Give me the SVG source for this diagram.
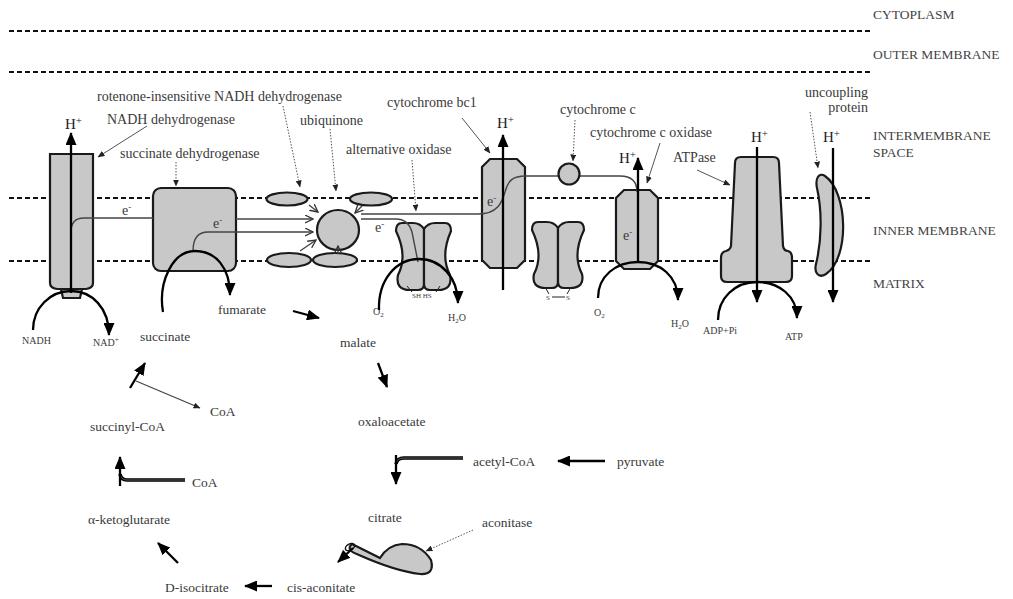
<svg xmlns="http://www.w3.org/2000/svg" width="1013" height="599" viewBox="0 0 1013 599">
<defs>
<style>
.mem{stroke:#111;stroke-width:2;stroke-dasharray:5 3;fill:none}
.prot{fill:#c8c8c8;stroke:#1a1a1a;stroke-width:2.2}
.thick{stroke:#000;stroke-width:2.3;fill:none;marker-end:url(#ah)}
.eline{stroke:#444;stroke-width:1.4;fill:none}
.eo{stroke:#444;stroke-width:1.4;fill:none;marker-end:url(#ao)}
.ptr{stroke:#555;stroke-width:1;fill:none;marker-end:url(#as)}
.dot{stroke-dasharray:1.5 1.5}
.dblo{stroke:#000;stroke-width:3.6;fill:none}
.dbli{stroke:#777;stroke-width:0.8;fill:none}
text{font-family:"Liberation Serif","DejaVu Serif",serif;fill:#3a3a3a}
.lbl{font-size:14px}
.tca{font-size:13.5px}
.reg{font-size:13.5px;fill:#444}
.sm{font-size:10px}
.tiny{font-size:7px}
.hp{font-size:15px;fill:#222}
</style>
<marker id="ah" viewBox="0 0 13 11" refX="12" refY="5.5" markerWidth="13" markerHeight="11" markerUnits="userSpaceOnUse" orient="auto"><path d="M0,0 L13,5.5 L0,11 Z" fill="#000"/></marker>
<marker id="as" viewBox="0 0 7 6" refX="6.5" refY="3" markerWidth="7" markerHeight="6" markerUnits="userSpaceOnUse" orient="auto"><path d="M0,0 L7,3 L0,6 Z" fill="#222"/></marker>
<marker id="ao" viewBox="0 0 9 9" refX="8" refY="4.5" markerWidth="9" markerHeight="9" markerUnits="userSpaceOnUse" orient="auto"><path d="M0,0.5 L8,4.5 L0,8.5" fill="none" stroke="#333" stroke-width="1.3"/></marker>
</defs>
<rect width="1013" height="599" fill="#fff"/>

<g id="membranes">
<line class="mem" x1="9" y1="31" x2="870" y2="31"/>
<line class="mem" x1="9" y1="72" x2="870" y2="72"/>
<line class="mem" x1="9" y1="198" x2="870" y2="198"/>
<line class="mem" x1="9" y1="261" x2="870" y2="261"/>
<text class="reg" x="873" y="19">CYTOPLASM</text>
<text class="reg" x="873" y="59">OUTER MEMBRANE</text>
<text class="reg" x="873" y="140">INTERMEMBRANE</text>
<text class="reg" x="873" y="157">SPACE</text>
<text class="reg" x="873" y="235">INNER MEMBRANE</text>
<text class="reg" x="873" y="288">MATRIX</text>
</g>

<g id="complex-I">
<path class="prot" d="M50,154 H93 V283 Q93,288 86,289 H57 Q50,288 50,283 Z"/>
<path class="prot" d="M61,289 H82 L80,298 H63 Z"/>
<text class="lbl" x="97" y="101">rotenone-insensitive NADH dehydrogenase</text>
<text class="lbl" x="107" y="124">NADH dehydrogenase</text>
<text class="sm" x="22" y="344">NADH</text>
<text class="sm" x="93" y="346">NAD<tspan dy="-4" font-size="7">+</tspan></text>
</g>

<g id="succinate-dehydrogenase">
<rect class="prot" x="153" y="188" width="83" height="83" rx="8"/>
<text class="lbl" x="120" y="158">succinate dehydrogenase</text>
</g>

<g id="rotenone-insensitive">
<ellipse class="prot" cx="287" cy="199" rx="20.5" ry="6.5"/>
<ellipse class="prot" cx="371" cy="199" rx="21" ry="6.5"/>
<ellipse class="prot" cx="289" cy="260" rx="22" ry="7"/>
<ellipse class="prot" cx="335" cy="260" rx="22" ry="7"/>
</g>

<g id="ubiquinone">
<ellipse class="prot" cx="338" cy="230" rx="21" ry="20"/>
<text class="lbl" x="300" y="125">ubiquinone</text>
</g>

<g id="alternative-oxidase">
<path class="prot" d="M424,229 Q420,223 413,223 L402,223 Q396,223 396,231 Q408,256 398,275 Q395,290 410,290 L418,290 Q424,290 424,284 Z"/>
<path class="prot" d="M424,229 Q428,223 435,223 L445,223 Q451,223 451,231 Q440,256 450,275 Q453,290 438,290 L430,290 Q424,290 424,284 Z"/>
<text class="lbl" x="346" y="154">alternative oxidase</text>
<text class="tiny" x="412" y="298">SH HS</text>
<path d="M407,286 L412,292 M440,286 L436,292" stroke="#222" stroke-width="1" fill="none"/>
<text class="sm" x="373" y="315">O<tspan dy="2" font-size="7">2</tspan></text>
<text class="sm" x="448" y="321">H<tspan dy="2" font-size="7">2</tspan><tspan dy="-2">O</tspan></text>
</g>

<g id="cytochrome-bc1">
<path class="prot" d="M490,159 H517 L525,167 V260 L517,268 H490 L482,260 V167 Z"/>
<text class="lbl" x="387" y="107">cytochrome bc1</text>
</g>

<g id="dimer">
<path class="prot" d="M558,228 Q554,222 547,222 L538,222 Q532,222 532,230 Q544,255 534,274 Q531,288 546,288 L552,288 Q558,288 558,282 Z"/>
<path class="prot" d="M558,228 Q562,222 569,222 L578,222 Q584,222 584,230 Q572,255 582,274 Q585,288 570,288 L564,288 Q558,288 558,282 Z"/>
<path d="M545,287 L549,294 M571,287 L567,294 M552,297 H565" stroke="#222" stroke-width="1" fill="none"/>
<text class="tiny" x="546" y="300">S</text>
<text class="tiny" x="566" y="300">S</text>
</g>

<g id="cytochrome-c-oxidase">
<path class="prot" d="M624,190 H650 L658,198 V261 L650,269 H624 L616,261 V198 Z"/>
<text class="lbl" x="590" y="137">cytochrome c oxidase</text>
<text class="sm" x="594" y="316">O<tspan dy="2" font-size="7">2</tspan></text>
<text class="sm" x="671" y="327">H<tspan dy="2" font-size="7">2</tspan><tspan dy="-2">O</tspan></text>
</g>

<g id="atpase">
<path class="prot" d="M741,157 H773 Q779,157 779,163 L783,246 Q784,251 788,251 Q792,252 792,258 V276 Q792,282 786,282 H727 Q721,282 721,276 V258 Q721,252 726,251 Q730,250 731,246 L735,163 Q735,157 741,157 Z"/>
<text class="lbl" x="673" y="162">ATPase</text>
<text class="sm" x="703" y="334">ADP+Pi</text>
<text class="sm" x="785" y="340">ATP</text>
</g>

<g id="uncoupling-protein">
<path class="prot" d="M825,176 C848,192 850,258 826,274 C818,279 814,272 816,264 C822,240 822,210 817,188 C815,178 819,172 825,176 Z"/>
<text class="lbl" x="868" y="97" text-anchor="end">uncoupling</text>
<text class="lbl" x="868" y="112" text-anchor="end">protein</text>
</g>

<g id="aconitase">
<path class="prot" d="M352,544 L380,558 Q388,545 402,544 Q421,544 431,560 Q435,575 420,574 Q395,571 359,555 Q345,550 352,544 Z"/>
<text class="tca" x="482" y="527">aconitase</text>
</g>

<g id="metabolites">
<text class="tca" x="140" y="341">succinate</text>
<text class="tca" x="218" y="314">fumarate</text>
<text class="tca" x="340" y="347">malate</text>
<text class="tca" x="358" y="426">oxaloacetate</text>
<text class="tca" x="473" y="466">acetyl-CoA</text>
<text class="tca" x="617" y="466">pyruvate</text>
<text class="tca" x="368" y="522">citrate</text>
<text class="tca" x="287" y="592">cis-aconitate</text>
<text class="tca" x="165" y="592">D-isocitrate</text>
<text class="tca" x="88" y="524">α-ketoglutarate</text>
<text class="tca" x="90" y="431">succinyl-CoA</text>
<text class="tca" x="210" y="416">CoA</text>
<text class="tca" x="192" y="487">CoA</text>
</g>

<g id="connectors">
<path class="eline" d="M71,232 Q71,218 84,218 H153"/>
<path class="eo" d="M236,219 H313"/>
<path class="eo" d="M193,251 Q193,232 208,232 H313"/>
<path class="eo" d="M309,205 L318,212"/>
<path class="eo" d="M362,206 L355,213"/>
<path class="eo" d="M300,251 L316,240"/>
<path class="eo" d="M338,254 V246"/>
<path class="eline" d="M361,214 H478 C498,214 502,202 505,192 C508,181 512,176 526,176 H620 Q637,176 637,192"/>
<path class="eline" d="M361,219 H396 Q408,219 412,232 L418,262"/>
<path class="thick" d="M71,293 V133"/>
<path class="thick" d="M33,330 C33,308 50,291 71,291 C92,291 109,308 109,335"/>
<path class="thick" d="M163,312 C158,283 172,251 195,251 C216,251 230,268 230,295"/>
<path class="thick" d="M379,310 C378,280 396,259 419,259 C441,259 458,278 458,303"/>
<path class="thick" d="M503,290 V135"/>
<path class="thick" d="M638,262 V158"/>
<path class="thick" d="M598,298 C598,276 616,262 638,262 C660,262 678,276 678,300"/>
<path class="thick" d="M757,147 V302"/>
<path class="thick" d="M718,320 C718,298 735,282 757,282 C779,282 797,296 797,318"/>
<path class="thick" d="M833,148 V302"/>
<path class="ptr" d="M147,126 L98,157"/>
<path class="ptr dot" d="M283,106 L300,187"/>
<path class="ptr dot" d="M330,129 L336,191"/>
<path class="ptr dot" d="M176,162 V186"/>
<path class="ptr dot" d="M412,160 L416,211"/>
<path class="ptr" d="M462,118 L490,153"/>
<path class="ptr dot" d="M575,120 L573,161"/>
<path class="ptr" d="M660,143 L647,183"/>
<path class="ptr" d="M697,170 L730,185"/>
<path class="ptr dot" d="M810,112 L818,168"/>
<path class="ptr dot" d="M473,530 L426,551"/>
<path class="thick" d="M293,311 L319,318"/>
<path class="thick" d="M378,363 L387,387"/>
<path class="dblo" d="M463,458 H404 Q397,458 396,464"/>
<path class="dbli" d="M463,458 H404 Q397,458 396,464"/>
<path class="thick" d="M396,455 V484"/>
<path class="thick" d="M605,461 H558"/>
<ellipse cx="350" cy="547" rx="5" ry="3" fill="none" stroke="#111" stroke-width="1.5" transform="rotate(-30 350 547)"/>
<path class="thick" d="M353,548 L338,562"/>
<path class="thick" d="M272,586 H245"/>
<path class="thick" d="M178,563 L158,543"/>
<path class="dblo" d="M185,480 H127 Q121,480 120,474"/>
<path class="dbli" d="M185,480 H127 Q121,480 120,474"/>
<path class="thick" d="M120,486 V457"/>
<path class="thick" d="M130,388 L145,363"/>
<path d="M136,381 L200,408" stroke="#444" stroke-width="1.3" fill="none" marker-end="url(#as)"/>
</g>

<g id="labels">
<text class="hp" x="65" y="129">H<tspan dy="-5" font-size="11">+</tspan></text>
<text class="lbl" x="122" y="215">e<tspan dy="-5" font-size="9">-</tspan></text>
<text class="lbl" x="213" y="228">e<tspan dy="-5" font-size="9">-</tspan></text>
<text class="lbl" x="375" y="232">e<tspan dy="-5" font-size="9">-</tspan></text>
<text class="hp" x="497" y="128">H<tspan dy="-5" font-size="11">+</tspan></text>
<text class="lbl" x="487" y="206">e<tspan dy="-5" font-size="9">-</tspan></text>
<text class="lbl" x="560" y="114">cytochrome c</text>
<text class="hp" x="619" y="163">H<tspan dy="-5" font-size="11">+</tspan></text>
<text class="lbl" x="623" y="240">e<tspan dy="-5" font-size="9">-</tspan></text>
<text class="hp" x="751" y="142">H<tspan dy="-5" font-size="11">+</tspan></text>
<text class="hp" x="823" y="142">H<tspan dy="-5" font-size="11">+</tspan></text>
</g>

<g id="cytochrome-c">
<circle class="prot" cx="569" cy="174" r="10.5"/>
</g>
</svg>
